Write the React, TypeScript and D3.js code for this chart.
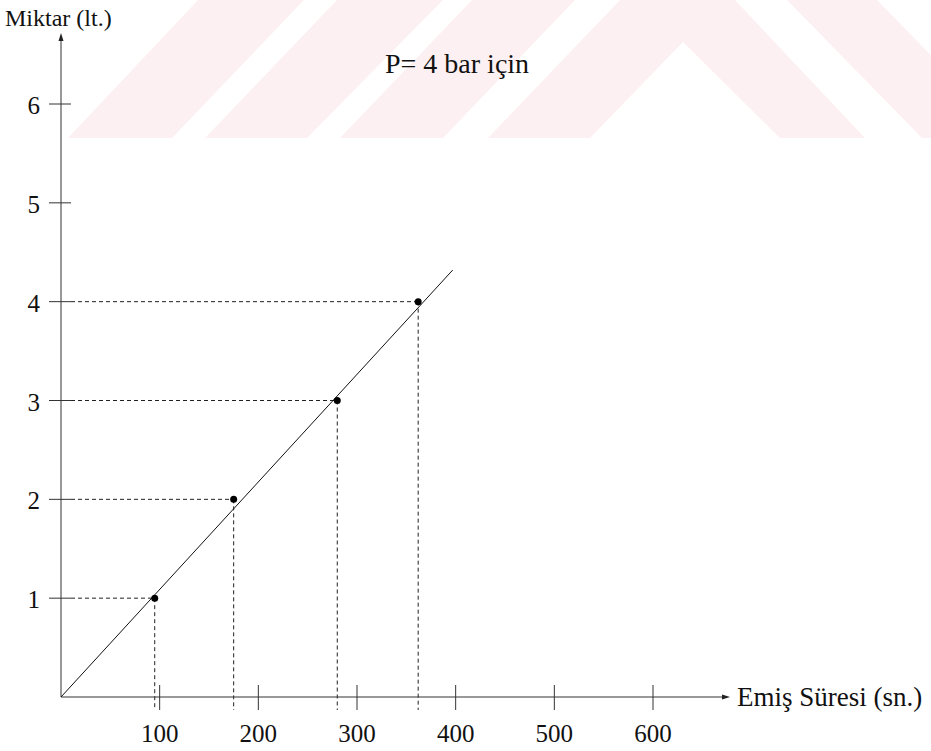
import React from "react";
import * as d3 from "d3";

// measured points (P = 4 bar)
const suctionTimes = [95, 175, 280, 362];
const volumes = [1, 2, 3, 4];
const xTicks = [100, 200, 300, 400, 500, 600];
const yTicks = [1, 2, 3, 4, 5, 6];
// fitted line end points
const fitX = [0, 397];
const fitY = [0, 4.32];

// background watermark stripes (page decoration, pixel space)
const watermark = [
  [[68, 138], [172, 138], [304, 0], [198, 0]],
  [[205, 138], [307, 138], [443, 0], [337, 0]],
  [[340, 138], [443, 138], [575, 0], [472, 0]],
  [[488, 138], [620, 0], [735, 0], [865, 138], [780, 138], [683, 42], [590, 138]],
  [[787, 0], [877, 0], [1012, 138], [922, 138]],
];

const W = 931;
const H = 751;
const serif = { fontFamily: "'Liberation Serif', 'DejaVu Serif', serif" };

export default function App() {
  const x = d3.scaleLinear().domain([0, 600]).range([61, 653]);
  const y = d3.scaleLinear().domain([0, 6]).range([697, 104]);

  const fitLine = d3
    .line<number>()
    .x((d) => x(d))
    .y((d, i) => y(fitY[i]));

  const points = suctionTimes.map((t, i) => ({ t, v: volumes[i] }));

  const axisTop = 33;
  const axisRight = 730;

  return (
    <svg
      width={W}
      height={H}
      style={{ position: "absolute", left: 0, top: 0, background: "#fff" }}
    >
      <g fill="#fdf0f2">
        {watermark.map((p, i) => (
          <polygon key={i} points={p.map((c) => c.join(",")).join(" ")} />
        ))}
      </g>

      {/* dashed guides */}
      <g stroke="#222" strokeWidth={1} strokeDasharray="4,3" fill="none">
        {points.map((d, i) => (
          <g key={i}>
            <line x1={x(0) + 10} x2={x(d.t)} y1={y(d.v)} y2={y(d.v)} />
            <line x1={x(d.t)} x2={x(d.t)} y1={y(d.v)} y2={y(0) + 13} />
          </g>
        ))}
      </g>

      {/* axes */}
      <g stroke="#333" strokeWidth={1}>
        <line x1={x(0)} x2={x(0)} y1={y(0)} y2={axisTop + 6} />
        <line x1={x(0)} x2={axisRight - 7} y1={y(0)} y2={y(0)} />
        {yTicks.map((t) => (
          <line key={t} x1={x(0) - 12} x2={x(0) + 10} y1={y(t)} y2={y(t)} />
        ))}
        {xTicks.map((t) => (
          <line key={t} x1={x(t)} x2={x(t)} y1={y(0) - 12} y2={y(0) + 13} />
        ))}
      </g>
      <path d={`M${x(0)},${axisTop} l-2.5,8 l5,0 Z`} fill="#222" />
      <path d={`M${axisRight},${y(0)} l-8,-2.5 l0,5 Z`} fill="#222" />

      {/* fitted line */}
      <path d={fitLine(fitX) || ""} fill="none" stroke="#111" strokeWidth={1} />

      {/* points */}
      {points.map((d, i) => (
        <circle key={i} cx={x(d.t)} cy={y(d.v)} r={3.5} fill="#000" />
      ))}

      {/* tick labels */}
      <g fill="#111">
        {yTicks.map((t) => (
          <text key={t} x={40} y={y(t) + 10} textAnchor="end" fontSize={25} style={serif}>
            {t}
          </text>
        ))}
        {xTicks.map((t) => (
          <text key={t} x={x(t)} y={742} textAnchor="middle" fontSize={25} style={serif}>
            {t}
          </text>
        ))}
      </g>

      {/* labels */}
      <text x={5} y={26} fontSize={24} fill="#111" style={serif}>
        Miktar (lt.)
      </text>
      <text x={737} y={706} fontSize={27} fill="#111" style={serif}>
        Emiş Süresi (sn.)
      </text>
      <text x={385} y={73} fontSize={28} fill="#111" style={serif}>
        P= 4 bar için
      </text>
    </svg>
  );
}
